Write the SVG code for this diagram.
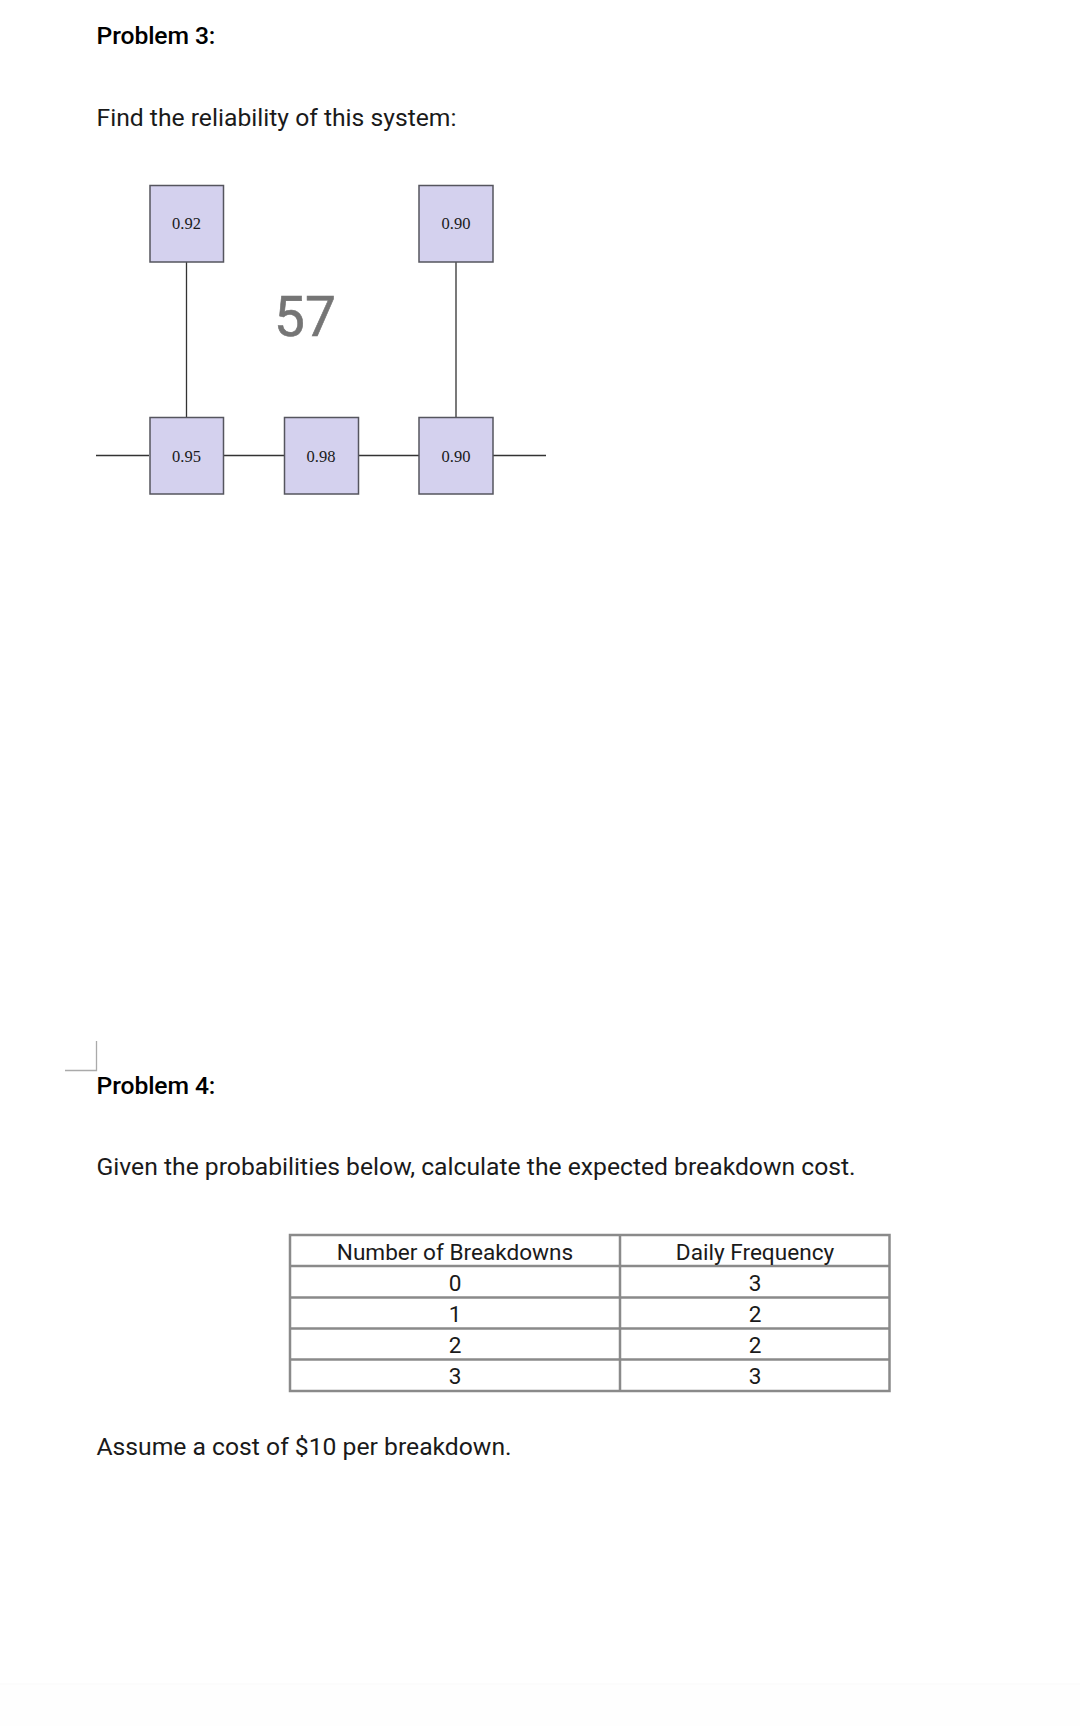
<svg xmlns="http://www.w3.org/2000/svg" width="1080" height="1726" viewBox="0 0 1080 1726">
<defs><filter id="soft" x="-10%" y="-10%" width="120%" height="120%"><feGaussianBlur stdDeviation="0.6"/></filter></defs>
<style>
.t{font-family:Roboto,"Liberation Sans",sans-serif;font-size:24.7px;fill:#1a1a1a}
.h{font-family:Roboto,"Liberation Sans",sans-serif;font-size:24.7px;font-weight:500;fill:#000;letter-spacing:-0.1px}
.c{font-family:Roboto,"Liberation Sans",sans-serif;font-size:22.6px;fill:#1a1a1a;text-anchor:middle}
.n{font-family:"Liberation Serif",serif;font-size:16.500px;fill:#1a1a1a;text-anchor:middle}
.b{fill:#d4d1ee;stroke:#55555e;stroke-width:1.5}
.w{stroke:#333;stroke-width:1.300;fill:none}
.g{stroke:#8a8a8a;stroke-width:2.500;fill:none}
</style>
<rect width="1080" height="1726" fill="#fff"/>
<rect y="1683" width="1080" height="2" fill="#fcfcfc"/>
<rect y="1685" width="1080" height="41" fill="#fefefe"/>
<text class="h" x="96.500" y="44">Problem 3:</text>
<text class="t" x="96.500" y="126">Find the reliability of this system:</text>
<g id="connectors">
<path class="w" d="M96 455.500H149M224 455.500H284M359 455.500H419M493 455.500H546M186.500 262V417M456 262V417"/>
</g>
<g id="n1"><rect class="b" x="150" y="185.500" width="73.500" height="76.500"/><text class="n" x="186.500" y="228.500">0.92</text></g>
<g id="n2"><rect class="b" x="419" y="185.500" width="74" height="76.500"/><text class="n" x="456" y="228.500">0.90</text></g>
<g id="n3"><rect class="b" x="150" y="417.500" width="73.500" height="76.500"/><text class="n" x="186.500" y="461.500">0.95</text></g>
<g id="n4"><rect class="b" x="284.500" y="417.500" width="74" height="76.500"/><text class="n" x="321" y="461.500">0.98</text></g>
<g id="n5"><rect class="b" x="419" y="417.500" width="74" height="76.500"/><text class="n" x="456" y="461.500">0.90</text></g>
<text x="305" y="336" font-family="Roboto,'Liberation Sans',sans-serif" font-size="55" fill="#747474" stroke="#747474" stroke-width="0.600" text-anchor="middle" filter="url(#soft)">57</text>
<path d="M96.500 1041V1070.500H65" fill="none" stroke="#aaa" stroke-width="1.300"/>
<text class="h" x="96.500" y="1094">Problem 4:</text>
<text class="t" x="96.500" y="1175">Given the probabilities below, calculate the expected breakdown cost.</text>
<g id="table">
<rect class="g" x="290" y="1235" width="599.500" height="156"/>
<path class="g" d="M290 1266H890M290 1297.500H890M290 1328.500H890M290 1359.500H890M620 1235V1391"/>
<text class="c" x="455" y="1260">Number of Breakdowns</text><text class="c" x="755" y="1260">Daily Frequency</text>
<text class="c" x="455" y="1291">0</text><text class="c" x="755" y="1291">3</text>
<text class="c" x="455" y="1322">1</text><text class="c" x="755" y="1322">2</text>
<text class="c" x="455" y="1353">2</text><text class="c" x="755" y="1353">2</text>
<text class="c" x="455" y="1384">3</text><text class="c" x="755" y="1384">3</text>
</g>
<text class="t" x="96.500" y="1455">Assume a cost of $10 per breakdown.</text>
</svg>
